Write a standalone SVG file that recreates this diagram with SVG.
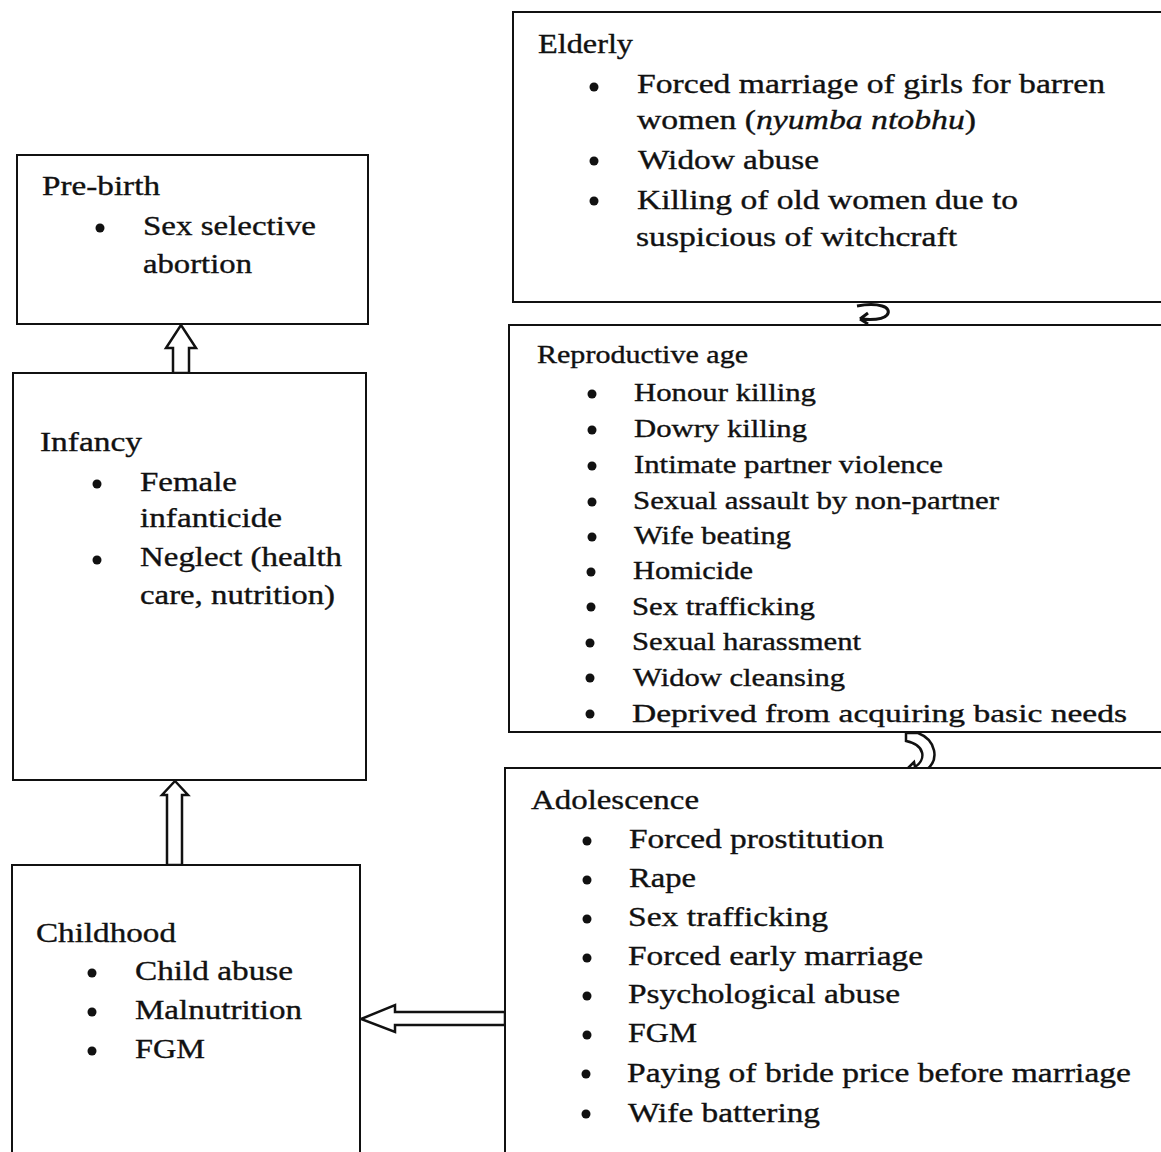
<svg xmlns="http://www.w3.org/2000/svg" width="1161" height="1152" viewBox="0 0 1161 1152">
<style>
.box{fill:#fff;stroke:#111;stroke-width:2}
.t{font-family:"Liberation Serif","Times New Roman",serif;fill:#111;font-size:27px;stroke:#111;stroke-width:0.35}
.s{font-size:25px}
.b{fill:#111}
.arr{fill:#fff;stroke:#111;stroke-width:2.5;stroke-linejoin:miter}
</style>
<rect width="1161" height="1152" fill="#fff"/>
<g id="connectors">
<path class="arr" d="M173,373 L173,348 L166,348 L181,325 L196,348 L189,348 L189,373 Z"/>
<path class="arr" d="M167,865 L167,795 L162,795 L175,781 L188,795 L182,795 L182,865 Z"/>
<path class="arr" d="M505,1012 L395,1012 L395,1005 L361,1019 L395,1032 L395,1025 L505,1025 Z"/>
<path d="M857,306 C878,302 893,307 887,315 C883,320 872,320 860,319 M860,319 L868,313 M860,319 L868,324" fill="none" stroke="#111" stroke-width="3"/>
<path class="arr" d="M906,733 L918,733 C936,740 940,760 926,770 L918,775 L917,781 L906,770 L914,762 L915,767 C926,760 926,745 906,741 Z"/>
</g>
<g id="prebirth">
<rect class="box" x="17" y="155" width="351" height="169"/>
<text class="t" x="42" y="195" textLength="118" lengthAdjust="spacingAndGlyphs">Pre-birth</text>
<circle class="b" cx="100" cy="228" r="4.5"/>
<text class="t" x="143" y="235" textLength="173" lengthAdjust="spacingAndGlyphs">Sex selective</text>
<text class="t" x="143" y="273" textLength="109" lengthAdjust="spacingAndGlyphs">abortion</text>
</g>
<g id="infancy">
<rect class="box" x="13" y="373" width="353" height="407"/>
<text class="t" x="40" y="451" textLength="102" lengthAdjust="spacingAndGlyphs">Infancy</text>
<circle class="b" cx="97" cy="484" r="4.5"/>
<text class="t" x="140" y="491" textLength="97" lengthAdjust="spacingAndGlyphs">Female</text>
<text class="t" x="140" y="527" textLength="142" lengthAdjust="spacingAndGlyphs">infanticide</text>
<circle class="b" cx="97" cy="560" r="4.5"/>
<text class="t" x="140" y="566" textLength="202" lengthAdjust="spacingAndGlyphs">Neglect (health</text>
<text class="t" x="140" y="604" textLength="195" lengthAdjust="spacingAndGlyphs">care, nutrition)</text>
</g>
<g id="childhood">
<rect class="box" x="12" y="865" width="348" height="300"/>
<text class="t" x="36" y="942" textLength="140" lengthAdjust="spacingAndGlyphs">Childhood</text>
<circle class="b" cx="92" cy="973" r="4.5"/>
<text class="t" x="135" y="980" textLength="158" lengthAdjust="spacingAndGlyphs">Child abuse</text>
<circle class="b" cx="92" cy="1012" r="4.5"/>
<text class="t" x="135" y="1019" textLength="167" lengthAdjust="spacingAndGlyphs">Malnutrition</text>
<circle class="b" cx="92" cy="1051" r="4.5"/>
<text class="t" x="135" y="1058" textLength="70" lengthAdjust="spacingAndGlyphs">FGM</text>
</g>
<g id="elderly">
<rect class="box" x="513" y="12" width="660" height="290"/>
<text class="t" x="538" y="53" textLength="95" lengthAdjust="spacingAndGlyphs">Elderly</text>
<circle class="b" cx="594" cy="87" r="4.5"/>
<text class="t" x="637" y="93" textLength="468" lengthAdjust="spacingAndGlyphs">Forced marriage of girls for barren</text>
<text class="t" x="637" y="129" textLength="339" lengthAdjust="spacingAndGlyphs">women (<tspan font-style="italic">nyumba ntobhu</tspan>)</text>
<circle class="b" cx="594" cy="161" r="4.5"/>
<text class="t" x="638" y="169" textLength="181" lengthAdjust="spacingAndGlyphs">Widow abuse</text>
<circle class="b" cx="594" cy="201" r="4.5"/>
<text class="t" x="637" y="209" textLength="381" lengthAdjust="spacingAndGlyphs">Killing of old women due to</text>
<text class="t" x="636" y="246" textLength="321" lengthAdjust="spacingAndGlyphs">suspicious of witchcraft</text>
</g>
<g id="reproductive">
<rect class="box" x="509" y="325" width="664" height="407"/>
<text class="t s" x="537" y="363" textLength="211" lengthAdjust="spacingAndGlyphs">Reproductive age</text>
<circle class="b" cx="592" cy="394" r="4.5"/>
<text class="t s" x="634" y="401" textLength="182" lengthAdjust="spacingAndGlyphs">Honour killing</text>
<circle class="b" cx="592" cy="430" r="4.5"/>
<text class="t s" x="634" y="437" textLength="173" lengthAdjust="spacingAndGlyphs">Dowry killing</text>
<circle class="b" cx="592" cy="466" r="4.5"/>
<text class="t s" x="634" y="473" textLength="309" lengthAdjust="spacingAndGlyphs">Intimate partner violence</text>
<circle class="b" cx="592" cy="502" r="4.5"/>
<text class="t s" x="633" y="509" textLength="366" lengthAdjust="spacingAndGlyphs">Sexual assault by non-partner</text>
<circle class="b" cx="592" cy="537" r="4.5"/>
<text class="t s" x="634" y="544" textLength="157" lengthAdjust="spacingAndGlyphs">Wife beating</text>
<circle class="b" cx="591" cy="572" r="4.5"/>
<text class="t s" x="633" y="579" textLength="120" lengthAdjust="spacingAndGlyphs">Homicide</text>
<circle class="b" cx="591" cy="607" r="4.5"/>
<text class="t s" x="632" y="615" textLength="183" lengthAdjust="spacingAndGlyphs">Sex trafficking</text>
<circle class="b" cx="590" cy="643" r="4.5"/>
<text class="t s" x="632" y="650" textLength="229" lengthAdjust="spacingAndGlyphs">Sexual harassment</text>
<circle class="b" cx="590" cy="678" r="4.5"/>
<text class="t s" x="633" y="686" textLength="212" lengthAdjust="spacingAndGlyphs">Widow cleansing</text>
<circle class="b" cx="590" cy="714" r="4.5"/>
<text class="t s" x="632" y="722" textLength="495" lengthAdjust="spacingAndGlyphs">Deprived from acquiring basic needs</text>
</g>
<g id="adolescence">
<rect class="box" x="505" y="768" width="668" height="400"/>
<text class="t" x="531" y="809" textLength="168" lengthAdjust="spacingAndGlyphs">Adolescence</text>
<circle class="b" cx="587" cy="841" r="4.5"/>
<text class="t" x="629" y="848" textLength="255" lengthAdjust="spacingAndGlyphs">Forced prostitution</text>
<circle class="b" cx="587" cy="880" r="4.5"/>
<text class="t" x="629" y="887" textLength="67" lengthAdjust="spacingAndGlyphs">Rape</text>
<circle class="b" cx="587" cy="919" r="4.5"/>
<text class="t" x="628" y="926" textLength="200" lengthAdjust="spacingAndGlyphs">Sex trafficking</text>
<circle class="b" cx="587" cy="958" r="4.5"/>
<text class="t" x="628" y="965" textLength="295" lengthAdjust="spacingAndGlyphs">Forced early marriage</text>
<circle class="b" cx="587" cy="996" r="4.5"/>
<text class="t" x="628" y="1003" textLength="272" lengthAdjust="spacingAndGlyphs">Psychological abuse</text>
<circle class="b" cx="587" cy="1035" r="4.5"/>
<text class="t" x="628" y="1042" textLength="69" lengthAdjust="spacingAndGlyphs">FGM</text>
<circle class="b" cx="586" cy="1074" r="4.5"/>
<text class="t" x="627" y="1082" textLength="504" lengthAdjust="spacingAndGlyphs">Paying of bride price before marriage</text>
<circle class="b" cx="586" cy="1114" r="4.5"/>
<text class="t" x="628" y="1122" textLength="192" lengthAdjust="spacingAndGlyphs">Wife battering</text>
</g>
</svg>
